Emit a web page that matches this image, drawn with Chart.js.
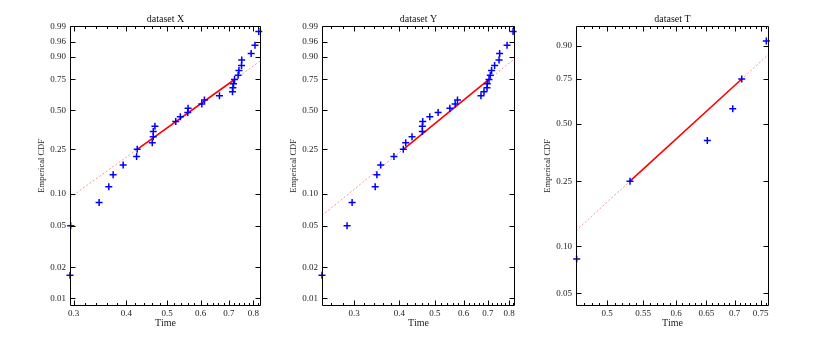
<!DOCTYPE html>
<html><head><meta charset="utf-8">
<script src="https://cdn.jsdelivr.net/npm/chart.js@4.4.1/dist/chart.umd.min.js"></script>
<style>
html,body{margin:0;padding:0;background:#fff;}
body{width:822px;height:339px;position:relative;overflow:hidden;}
canvas{position:absolute;top:0;}
</style></head><body>
<canvas id="c1" width="275" height="339" style="left:0px"></canvas>
<canvas id="c2" width="280" height="339" style="left:252px"></canvas>
<canvas id="c3" width="280" height="339" style="left:506px"></canvas>
<script>
// ---- data ----
const titles = ['dataset X', 'dataset Y', 'dataset T'];
const xLabel = 'Time';
const yLabel = 'Emperical CDF';

const cdf30 = [0.0167,0.05,0.0833,0.1167,0.15,0.1833,0.2167,0.25,0.2833,0.3167,0.35,0.3833,0.4167,0.45,0.4833,
               0.5167,0.55,0.5833,0.6167,0.65,0.6833,0.7167,0.75,0.7833,0.8167,0.85,0.8833,0.9167,0.95,0.9833];
const cdf6 = [0.0833,0.25,0.4167,0.5833,0.75,0.9167];

const timeX = [0.2943,0.2954,0.3449,0.3636,0.3723,0.3932,0.4231,0.4245,0.4608,0.4633,0.4633,0.4676,0.5237,0.5370,0.5592,
               0.5601,0.6036,0.6123,0.6646,0.7136,0.7152,0.7175,0.7215,0.7358,0.7391,0.7496,0.7504,0.7900,0.8066,0.8235];
const timeY = [0.2450,0.2871,0.2964,0.3430,0.3467,0.3550,0.3862,0.4097,0.4160,0.4330,0.4622,0.4622,0.4634,0.4845,0.5107,
               0.5501,0.5689,0.5773,0.6697,0.6826,0.6958,0.6970,0.7046,0.7105,0.7163,0.7301,0.7508,0.7537,0.7899,0.8206];
const timeT = [0.4614,0.5312,0.6515,0.6967,0.7135,0.7613];

// reference line (edge, 1st quartile, 3rd quartile, edge)
const fitTimeX = [0.2943,0.4245,0.7215,0.8335];
const fitCdfX  = [0.0925,0.25,0.75,0.881];
const fitTimeY = [0.2450,0.4097,0.7046,0.8306];
const fitCdfY  = [0.0627,0.25,0.75,0.8925];
const fitTimeT = [0.4606,0.5312,0.7135,0.7667];
const fitCdfT  = [0.1259,0.25,0.75,0.8694];

const xTicks12 = [0.3,0.4,0.5,0.6,0.7,0.8];
const xTicks3  = [0.5,0.55,0.6,0.65,0.7,0.75];
const yTicks12 = [0.01,0.02,0.05,0.10,0.25,0.50,0.75,0.90,0.96,0.99];
const yTicks3  = [0.05,0.10,0.25,0.50,0.75,0.90];

// ---- Weibull probability scale ----
const wf = p => Math.log(-Math.log(1 - p));
const wfi = y => 1 - Math.exp(-Math.exp(y));
class WeibullScale extends Chart.LinearScale {
  getPixelForValue(v) {
    const a = wf(this.min), b = wf(this.max);
    return this.getPixelForDecimal((wf(v) - a) / (b - a));
  }
  getValueForPixel(px) {
    const a = wf(this.min), b = wf(this.max);
    return wfi(a + this.getDecimalForPixel(px) * (b - a));
  }
}
WeibullScale.id = 'weibull';
WeibullScale.defaults = Chart.LinearScale.defaults;
Chart.register(WeibullScale);

const FONT = "'Liberation Serif', 'Times New Roman', serif";

const framePlugin = {
  id: 'frame',
  afterDraw(chart) {
    const {ctx, chartArea: ca, scales: {x, y}} = chart;
    const o = chart.options.plugins.frame;
    const L = Math.round(ca.left) + 0.5, R = Math.round(ca.right) - 0.5;
    const T = Math.round(ca.top) + 0.5, B = Math.round(ca.bottom) - 0.5;
    ctx.save();
    ctx.strokeStyle = '#000';
    ctx.lineWidth = 1;
    ctx.beginPath();
    ctx.rect(L, T, R - L, B - T);
    o.yTicks.forEach(v => {
      const py = Math.round(y.getPixelForValue(v)) + 0.5;
      ctx.moveTo(L, py); ctx.lineTo(L + 5, py);
      ctx.moveTo(R, py); ctx.lineTo(R - 5, py);
    });
    o.xTicks.forEach(v => {
      const px = Math.round(x.getPixelForValue(v)) + 0.5;
      ctx.moveTo(px, B); ctx.lineTo(px, B - 5);
      ctx.moveTo(px, T); ctx.lineTo(px, T + 5);
    });
    for (let v = o.minorStart; v < x.max; v += o.minorStep) {
      if (v < x.min) continue;
      const px = Math.round(x.getPixelForValue(v)) + 0.5;
      ctx.moveTo(px, B); ctx.lineTo(px, B - 2.5);
      ctx.moveTo(px, T); ctx.lineTo(px, T + 2.5);
    }
    ctx.stroke();
    ctx.restore();
  }
};

function makeChart(id, title, times, cdf, fitT, fitP, xr, yr, xTicks, yTicks, padRight, minorStart, minorStep) {
  const pts = times.map((t, i) => ({x: t, y: cdf[i]}));
  const fit = fitT.map((t, i) => ({x: t, y: fitP[i]}));
  new Chart(document.getElementById(id), {
    type: 'scatter',
    data: {
      datasets: [
        {data: pts, pointStyle: 'cross', pointRadius: 3.5, borderWidth: 1.5,
         borderColor: '#0000ff', backgroundColor: '#0000ff', showLine: false, clip: false},
        {data: fit.slice(1, 3), showLine: true, pointRadius: 0, borderColor: '#ff0000', borderWidth: 1.6},
        {data: fit, showLine: true, pointRadius: 0, borderColor: 'rgba(255,60,60,0.55)', borderWidth: 1,
         borderDash: [2, 2]}
      ]
    },
    options: {
      responsive: false, animation: false, devicePixelRatio: 1,
      layout: {autoPadding: false, padding: {left: 0, right: padRight, top: 0, bottom: 0}},
      plugins: {
        legend: {display: false}, tooltip: {enabled: false},
        title: {display: true, text: title, fullSize: false, color: '#111',
                font: {family: FONT, size: 10, weight: 'normal'}, padding: {top: 13, bottom: 0.7}},
        frame: {xTicks, yTicks, minorStart, minorStep}
      },
      scales: {
        x: {
          type: 'logarithmic', min: xr[0], max: xr[1], bounds: 'data',
          grid: {display: false, drawTicks: false, tickLength: 0}, border: {display: false},
          afterBuildTicks: s => { s.ticks = xTicks.map(v => ({value: v})); },
          afterFit: s => { s.height = 33; },
          ticks: {color: '#222', padding: 2, maxRotation: 0, autoSkip: false,
                  font: {family: FONT, size: 9}, callback: v => String(v)},
          title: {display: true, text: xLabel, color: '#222', font: {family: FONT, size: 10},
                  padding: {top: 0, bottom: 10}}
        },
        y: {
          type: 'weibull', min: yr[0], max: yr[1], bounds: 'data',
          grid: {display: false, drawTicks: false, tickLength: 0}, border: {display: false},
          afterBuildTicks: s => { s.ticks = yTicks.map(v => ({value: v})); },
          afterFit: s => { s.width = 70; },
          ticks: {color: '#222', padding: 4, autoSkip: false,
                  font: {family: FONT, size: 9}, callback: v => Number(v).toFixed(2)},
          title: {display: true, text: yLabel, color: '#222', font: {family: FONT, size: 8.5},
                  padding: {top: 36.5, bottom: 0}}
        }
      }
    },
    plugins: [framePlugin]
  });
}

makeChart('c1', titles[0], timeX, cdf30, fitTimeX, fitCdfX, [0.2943, 0.8335], [0.0084, 0.9905],
          xTicks12, yTicks12, 14, 0.30, 0.02);
makeChart('c2', titles[1], timeY, cdf30, fitTimeY, fitCdfY, [0.2450, 0.8306], [0.0084, 0.9905],
          xTicks12, yTicks12, 17, 0.24, 0.02);
makeChart('c3', titles[2], timeT, cdf6, fitTimeT, fitCdfT, [0.4606, 0.7667], [0.0413, 0.957],
          xTicks3, yTicks3, 17, 0.46, 0.01);
</script>
</body></html>
